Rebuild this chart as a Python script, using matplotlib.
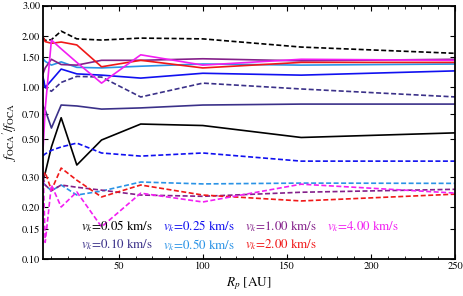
import numpy as np
import matplotlib.pyplot as plt
from matplotlib.ticker import FixedLocator, NullFormatter, MultipleLocator

plt.rcParams['font.family'] = 'STIXGeneral'
plt.rcParams['mathtext.fontset'] = 'stix'

# planet orbital radius [AU]
r_au = [5.0, 6.3, 10.0, 15.8, 25.1, 39.8, 63.1, 100.0, 158.5, 251.0]

# kick velocities and their colours
vk_labels = ['0.05', '0.10', '0.25', '0.50', '1.00', '2.00', '4.00']
vk_colors = ['black', '#3b3189', '#1010f0', '#2a93e6', '#84208a', '#f01818', '#f21ef2']

# ratio f_OCA'/f_OCA, solid curves
solid_005 = [0.29, 0.317, 0.45, 0.666, 0.353, 0.494, 0.612, 0.60, 0.511, 0.544]
solid_010 = [0.78, 0.74, 0.58, 0.79, 0.78, 0.748, 0.76, 0.79, 0.80, 0.80]
solid_025 = [1.15, 1.00, 1.10, 1.28, 1.20, 1.18, 1.134, 1.21, 1.18, 1.25]
solid_050 = [1.48, 1.42, 1.35, 1.41, 1.31, 1.30, 1.33, 1.37, 1.35, 1.37]
solid_100 = [1.20, 1.30, 1.46, 1.36, 1.35, 1.44, 1.44, 1.47, 1.43, 1.46]
solid_200 = [1.97, 1.85, 1.81, 1.84, 1.77, 1.32, 1.44, 1.30, 1.40, 1.40]
solid_400 = [0.43, 0.75, 1.89, 1.68, 1.40, 1.06, 1.55, 1.35, 1.46, 1.44]

# ratio f_OCA'/f_OCA, dashed curves
dashed_005 = [1.95, 1.88, 1.90, 2.13, 1.92, 1.89, 1.94, 1.92, 1.72, 1.58]
dashed_010 = [1.13, 1.00, 0.95, 1.07, 1.16, 1.15, 0.88, 1.06, 0.98, 0.88]
dashed_025 = [0.40, 0.41, 0.43, 0.45, 0.474, 0.415, 0.398, 0.415, 0.372, 0.372]
dashed_050 = [0.28, 0.27, 0.25, 0.27, 0.236, 0.249, 0.281, 0.274, 0.277, 0.276]
dashed_100 = [0.30, 0.27, 0.25, 0.27, 0.262, 0.252, 0.236, 0.232, 0.245, 0.255]
dashed_200 = [0.30, 0.32, 0.252, 0.339, 0.288, 0.23, 0.27, 0.236, 0.218, 0.239]
dashed_400 = [0.35, 0.125, 0.27, 0.201, 0.246, 0.154, 0.242, 0.215, 0.273, 0.242]

solids = [solid_005, solid_010, solid_025, solid_050, solid_100, solid_200, solid_400]
dashes = [dashed_005, dashed_010, dashed_025, dashed_050, dashed_100, dashed_200, dashed_400]

fig = plt.figure(figsize=(4.64, 2.96), dpi=100)
ax = fig.add_axes([0.0927, 0.125, 0.888, 0.856])

handles = []
for lab, col, ys, yd in zip(vk_labels, vk_colors, solids, dashes):
    h, = ax.plot(r_au, ys, '-', color=col, lw=1.2,
                 label=r'$v_k$=%s km/s' % lab)
    ax.plot(r_au, yd, '--', color=col, lw=1.2, dashes=(3, 1.5))
    handles.append(h)

ax.set_yscale('log')
ax.set_xlim(5, 250)
ax.set_ylim(0.1, 3.0)

yt = [0.10, 0.15, 0.20, 0.30, 0.50, 0.70, 1.00, 1.50, 2.00, 3.00]
ax.yaxis.set_major_locator(FixedLocator(yt))
ax.yaxis.set_minor_formatter(NullFormatter())
ax.yaxis.set_minor_locator(FixedLocator([]))
ax.set_yticklabels(['%.2f' % t for t in yt])
ax.xaxis.set_major_locator(MultipleLocator(50))
ax.xaxis.set_minor_locator(MultipleLocator(10))

ax.tick_params(which='both', direction='in', top=True, right=True,
               labelsize=7.5, pad=2)
ax.tick_params(which='major', length=3.5, width=0.8)
ax.tick_params(which='minor', length=2, width=0.6)
for s in ax.spines.values():
    s.set_linewidth(1.3)

ax.set_xlabel(r'$R_p$ [AU]', fontsize=9.5, labelpad=3)
ax.set_ylabel(r"$f_{\rm OCA}{}'/f_{\rm OCA}$", fontsize=9.5, labelpad=2)

leg = ax.legend(handles=handles, ncol=4, loc='lower left',
                bbox_to_anchor=(0.093, 0.025), frameon=False,
                handlelength=0, handletextpad=0, columnspacing=0.75,
                labelspacing=0.2, borderpad=0, borderaxespad=0,
                fontsize=9.4, labelcolor='linecolor')

fig.savefig('out.png', dpi=100)
